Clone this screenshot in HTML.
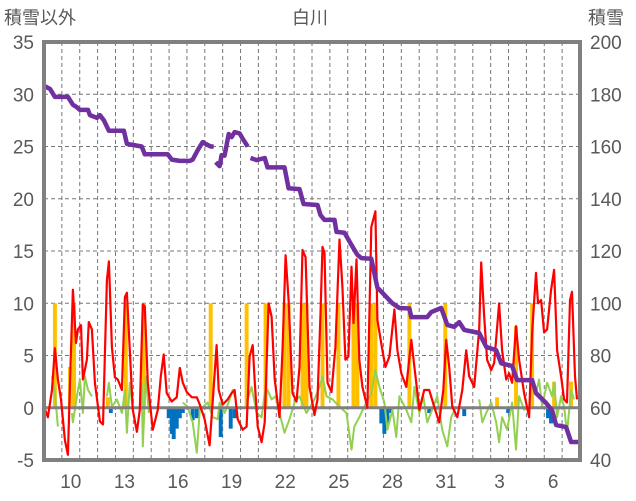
<!DOCTYPE html>
<html><head><meta charset="utf-8"><style>
html,body{margin:0;padding:0;background:#fff;}
svg{display:block;font-family:"Liberation Sans","Noto Sans CJK JP",sans-serif;}
</style></head><body>
<svg id="chart" width="636" height="501">
<text x="4" y="24" font-size="18" fill="#595959">積雪以外</text>
<text x="310" y="24" font-size="18" fill="#595959" text-anchor="middle">白川</text>
<text x="588" y="24" font-size="18" fill="#595959">積雪</text>
<g id="grid"></g><g id="bars"></g><g id="lines"></g><g id="axes"></g>
</svg>
<script>
const leftTicks=[35,30,25,20,15,10,5,0,-5];
const rightTicks=[200,180,160,140,120,100,80,60,40];
const dayLabels=["10","13","16","19","22","25","28","31","3","6"];
const dayLabelPos=[1,4,7,10,13,16,19,22,25,28];
const redT=[0.06,0.22,0.45,0.61,0.78,0.95,1.17,1.34,1.51,1.62,1.79,1.9,2.07,2.18,2.4,2.51,2.68,2.85,3.13,3.3,3.52,3.63,3.8,3.97,4.13,4.36,4.53,4.64,4.8,4.97,5.2,5.36,5.53,5.64,5.81,6.09,6.37,6.54,6.7,6.87,7.15,7.43,7.6,7.77,7.99,8.27,8.55,8.72,8.99,9.27,9.44,9.66,9.78,10,10.28,10.5,10.67,10.84,11.12,11.34,11.51,11.68,11.79,11.96,12.18,12.35,12.57,12.74,12.91,13.18,13.35,13.52,13.69,13.91,14.13,14.3,14.47,14.64,14.86,15.14,15.31,15.47,15.59,15.7,15.87,16.09,16.31,16.54,16.7,16.87,17.04,17.21,17.32,17.49,17.65,17.82,18.1,18.32,18.55,18.66,18.94,19.11,19.33,19.61,19.78,20,20.28,20.56,20.73,21.01,21.28,21.56,21.84,22.12,22.35,22.51,22.68,22.85,23.13,23.41,23.63,23.8,24.08,24.36,24.47,24.64,24.8,25.03,25.2,25.47,25.64,25.87,26.03,26.2,26.42,26.59,26.87,27.15,27.32,27.54,27.65,27.82,27.99,28.16,28.38,28.55,28.72,28.94,29.11,29.27,29.44,29.55,29.72,29.83];
const redV=[-0.2,-0.9,1.7,5.7,2.7,0.8,-3.1,-4.5,5.5,11.3,6.2,7.5,7.9,2.7,4.6,8.2,7.5,2.4,-1.3,-1.6,12.2,14,5.8,2.9,2.7,1.7,10.6,11,5.5,-0.2,-2.3,-0.2,9.9,9.7,2.4,-2.1,-0.2,3,5.1,1.4,0.6,1,3.8,2.4,1.5,1,1,0.3,-1.1,-3.6,0.6,6,1.7,0.3,0.8,1.4,1.7,-1.1,-2.1,-1.8,4.9,6,2.7,-1.8,-3.3,-1.4,10,8.7,2.7,-0.9,5.5,14.6,10.3,1.4,0.6,3.9,15.1,14.4,2,-0.7,0.8,8.7,15.4,14.8,2.4,1.5,5.8,16.1,11.6,4.6,4.9,13.5,8.1,14.2,4.6,2,0,17.3,18.8,8.4,5.5,3.9,4.9,9.4,5.5,3.3,2,6.5,3.9,-0.2,1.7,1.7,0.1,-1.4,1.7,6.5,3.9,0.1,-0.9,1.7,5.5,3,2,7.5,13.9,8.7,4.6,3.6,4.3,10,5.5,2.7,3.3,2.4,7.8,4.6,1.4,-0.9,7.2,12.9,10,10.3,7.2,7.5,11.3,13.2,5.5,3,0.8,0.5,10.3,11.1,3,0.8];
const greenT=[0.45,0.61,0.78,null,1.56,1.62,1.84,2.01,2.18,2.29,2.46,2.68,null,3.52,3.63,3.8,4.08,4.36,4.53,4.64,4.8,4.97,null,5.47,5.53,5.7,5.87,null,7.77,8.04,8.32,8.55,8.72,9.16,9.44,9.72,9.83,10.11,10.39,10.56,10.73,null,11.34,11.62,11.9,12.18,12.35,12.51,12.74,12.96,13.18,13.46,13.74,14.02,14.3,14.69,15.14,15.42,15.59,15.81,16.15,16.54,16.93,17.21,17.37,17.65,18.04,18.32,18.55,18.77,19.05,19.22,19.5,19.72,19.89,20.28,20.56,20.73,21.01,21.23,21.45,21.73,22.01,22.29,22.57,22.79,23.07,null,24.36,24.53,24.75,25.03,25.31,25.47,25.64,25.92,26.2,26.42,26.59,26.87,27.15,27.32,27.54,27.71,27.88,28.16,28.44,28.55,28.72,28.94,29.11,29.27,29.5,29.66];
const greenV=[3,1.4,-1.8,null,-0.5,-1.4,1.1,2.7,-0.5,3,1.7,1.1,null,1.1,2.4,0.1,0.8,-0.5,1.7,-2.4,2.4,-0.2,null,2.4,-3.7,3,-0.5,null,0.5,0.1,-1.4,-4.3,-0.2,0.5,-0.9,-1.1,0.5,-0.5,0.8,1.7,0.8,null,0.5,2,-0.5,-0.9,1.4,1.7,0.8,1.1,-0.5,-2.4,-1.1,0.5,1.1,-0.5,0.8,2,3,1.1,0.8,0.1,-0.5,-4,-1.8,-0.9,0.5,1.4,3.6,2,0.5,-2.1,-0.2,-2.8,1.1,-0.2,-1.4,2,-0.5,1.1,-1.4,-0.2,1.1,-2.1,-3.7,-0.9,0.1,null,0.8,-1.4,-0.5,0.5,-1.4,-3.3,-0.9,-2.1,0.5,-4,1.1,-0.2,0.1,2.7,1.4,2.7,0.1,2.4,1.1,2.4,-0.9,1.1,0.1,-2.4,1.7,0.8];
const snowT=[0.06,0.34,0.61,1.34,1.62,1.84,2.01,2.46,2.57,2.96,3.13,3.35,3.63,4.47,4.64,5.47,5.64,6.93,7.15,7.6,8.16,8.32,8.6,8.88,9.05,9.33,9.5,null,9.61,9.83,9.94,10.11,10.34,10.5,10.67,10.95,11.12,11.4,null,11.56,11.9,12.35,12.51,13.46,13.69,14.3,14.53,15.31,15.47,15.7,16.26,16.37,16.82,17.21,17.54,17.77,18.32,18.66,18.94,19.5,19.89,20.45,20.56,21.45,21.68,22.23,22.57,22.96,23.24,23.52,24.36,24.75,25.31,25.59,26.2,26.48,27.32,27.54,28.1,28.44,28.66,29.22,29.5,29.94];
const snowV=[183,182,179,179,176,175,174,174,172,171,172,170,166,166,161,160,157,157,155,154.5,154.5,155,158.6,161.7,161,160,160,null,154,152.5,156.7,156.5,164.8,163.6,165.5,165,163,160,null,155.6,154.8,155.6,152,152,144,143.7,138,137.6,133.8,131.9,131.9,127.3,127,122.3,118.5,117.3,117,106,104,100,98.2,98,94.7,94.7,96.6,98.2,91.7,91,92.8,89.8,88.6,83.3,82,77,76,70.6,70.6,65.6,61.8,59,53.4,52.6,46.9,46.9];
const precipT=[0.61,1.45,1.68,3.58,4.58,5.59,9.33,11.34,12.4,13.46,13.69,14.47,14.69,15.59,16.48,17.32,17.54,18.32,18.55,20.45,22.46,25.36,26.42,27.32,28.55,29.5];
const precipV=[10,3.9,10,1,10,10,10,10,10,10,10,10,10,10,10,10,10,10,10,10,10,1,7.8,10,2.5,2.5];
const meltT=[3.74,6.98,7.15,7.26,7.43,7.6,7.77,8.32,8.55,9.89,10.45,10.67,18.88,19.05,19.22,19.44,21.56,23.52,25.98,28.21,28.38];
const meltV=[-0.5,-1,-2.5,-3,-2,-1,-0.5,-1.2,-1,-2.8,-2,-1,-1.5,-2.5,-1.5,-0.5,-0.5,-0.8,-0.5,-1,-1.5];

const L=44,R=580,T=42,B=460,NS="http://www.w3.org/2000/svg";
const x=t=>L+t*(R-L)/30;
const y=v=>B-(v+5)*(B-T)/40;
const yr=s=>B-(s-40)*(B-T)/160;
function el(tag,attrs,parent){const e=document.createElementNS(NS,tag);for(const k in attrs)e.setAttribute(k,attrs[k]);document.getElementById(parent).appendChild(e);return e;}
leftTicks.forEach(v=>{const g=el('line',{x1:L,x2:R,y1:y(v),y2:y(v),stroke:'#777','stroke-dasharray':'4,3','stroke-width':1},'grid');

});
for(let d=1;d<30;d++){const g=el('line',{x1:x(d),x2:x(d),y1:T,y2:B,stroke:'#777','stroke-dasharray':'4,3','stroke-width':1},'grid');

}
const bw=(R-L)/30*0.22;
precipT.forEach((t,i)=>{const b=el('rect',{x:x(t)-bw/2,y:y(precipV[i]),width:bw,height:y(0)-y(precipV[i]),fill:'#FFC000'},'bars');

});
meltT.forEach((t,i)=>{const b=el('rect',{x:x(t)-bw/2,y:y(0),width:bw,height:y(meltV[i])-y(0),fill:'#0070C0'},'bars');

});
function path(ts,vs,fy){let d='',pen=false;ts.forEach((t,i)=>{if(t===null||vs[i]===null){pen=false;return;}d+=(pen?'L':'M')+x(t).toFixed(1)+','+fy(vs[i]).toFixed(1);pen=true;});return d;}
const g1=el('path',{d:path(greenT,greenV,y),fill:'none',stroke:'#92D050','stroke-width':2,'stroke-linejoin':'round'},'lines');


const z=el('line',{x1:L,x2:R,y1:y(0),y2:y(0),stroke:'#808080','stroke-width':3},'lines');


const r1=el('path',{d:path(redT,redV,y),fill:'none',stroke:'#FF0000','stroke-width':2.2,'stroke-linejoin':'round'},'lines');


const p1=el('path',{d:path(snowT,snowV,yr),fill:'none',stroke:'#7030A0','stroke-width':4.5,'stroke-linejoin':'round'},'lines');


const f=el('rect',{x:L,y:T,width:R-L,height:B-T,fill:'none',stroke:'#808080','stroke-width':4},'axes');


leftTicks.forEach(v=>{const t=el('text',{x:34,y:y(v)+7,'font-size':19,fill:'#595959','text-anchor':'end'},'axes');t.textContent=v;

});
rightTicks.forEach(v=>{const t=el('text',{x:590,y:yr(v)+7,'font-size':19,fill:'#595959'},'axes');t.textContent=v;

});
dayLabels.forEach((s,i)=>{const t=el('text',{x:x(dayLabelPos[i]+0.5),y:488,'font-size':19,fill:'#595959','text-anchor':'middle'},'axes');t.textContent=s;

});
</script>
</body></html>
